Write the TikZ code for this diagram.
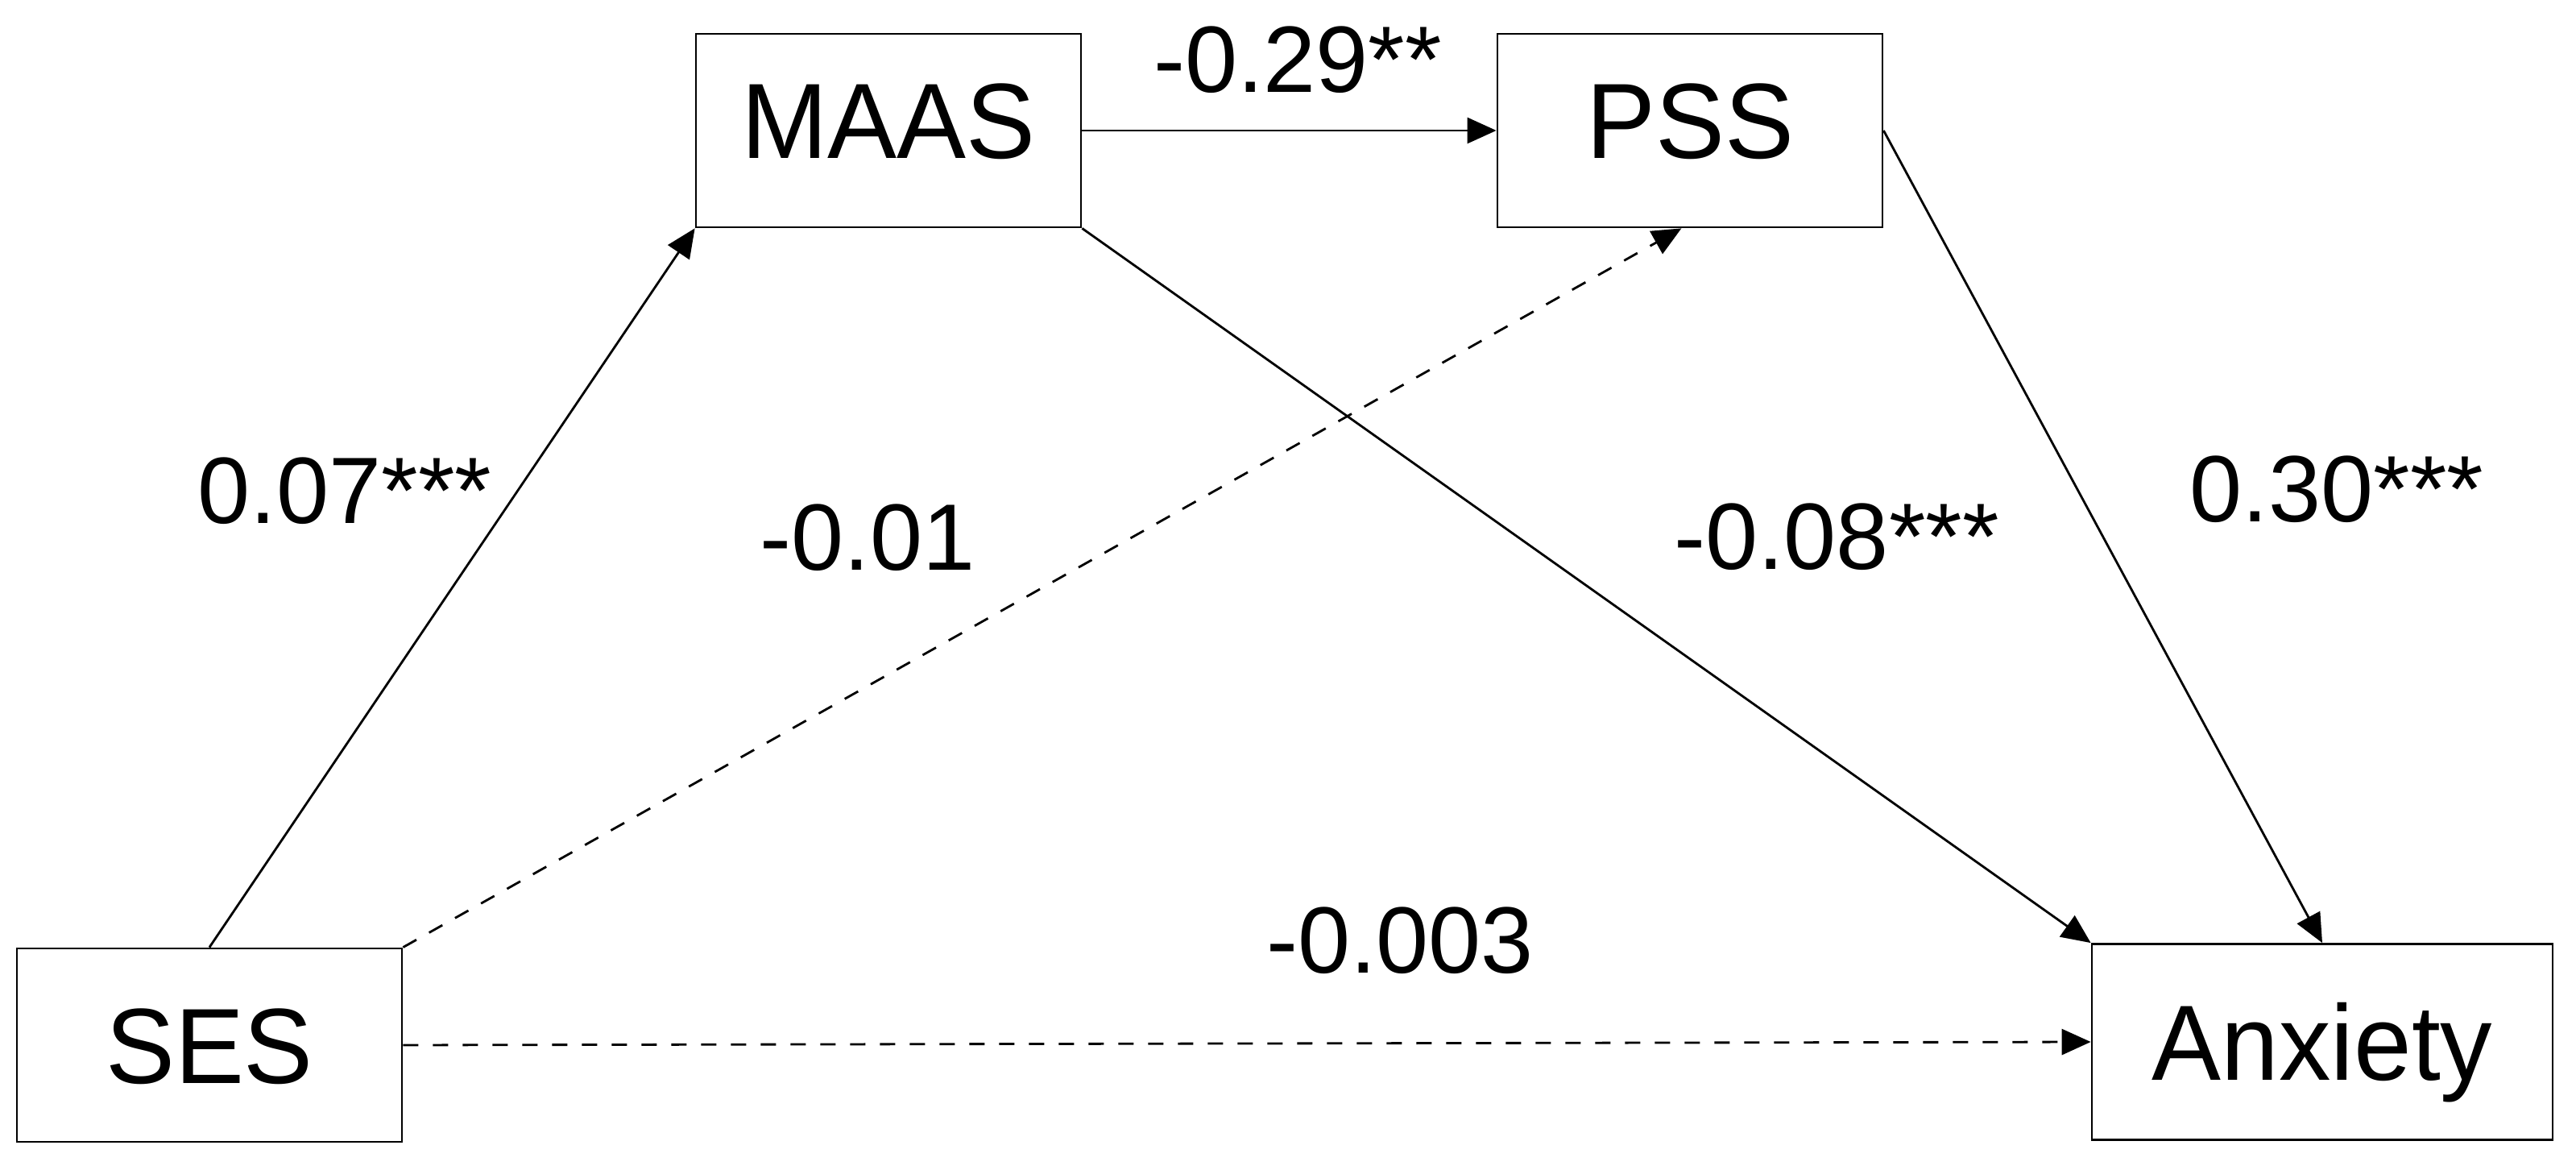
\documentclass[tikz,border=0pt]{standalone}
\usepackage{fontspec}
\setmainfont{Liberation Sans}
\newfontfamily\boxfont[FakeStretch=0.97]{Liberation Sans}
\usetikzlibrary{arrows.meta}

\begin{document}
\begin{tikzpicture}[>={Triangle[length=0.36cm,width=0.32cm]}, line width=0.8pt,
		box/.style={draw, rectangle, minimum width=4.78cm, minimum height=2.40cm, inner sep=0pt,
			text height=0.95cm, text depth=0pt, font=\boxfont\fontsize{37.8}{40}\selectfont},
		coef/.style={anchor=base, font=\fontsize{33.3}{36}\selectfont},
		dsh/.style={dash pattern=on 0.19cm off 0.18cm}]
		\useasboundingbox (0,0) rectangle (31.98,14.46);
		\node[box, text depth=0.26cm] (MAAS) at (11.03,12.84) {MAAS};
		\node[box, text depth=0.26cm] (PSS) at (20.98,12.84) {PSS};
		\node[box] (SES) at (2.60,1.49) {SES};
		\node[box, minimum width=5.72cm, minimum height=2.43cm] (Anx) at (28.83,1.53) {Anxiety};
		% paths
		\draw[->] (SES.north) -- (MAAS.south west);
		\draw[->, dsh] (SES.north east) -- (PSS.-95);
		\draw[->] (MAAS.east) -- (PSS.west);
		\draw[->] (MAAS.south east) -- (Anx.north west);
		\draw[->] (PSS.east) -- (Anx.north);
		\draw[->, dsh] (SES.east) -- (Anx.west);
		% coefficients
		\node[coef] (cMP) at (16.11,13.31) {-0.29**};
		\node[coef] (cSM) at (4.28,7.96) {0.07***};
		\node[coef] (cSP) at (10.77,7.38) {-0.01};
		\node[coef] (cMA) at (22.80,7.39) {-0.08***};
		\node[coef] (cPA) at (29.01,7.98) {0.30***};
		\node[coef] (cSA) at (17.38,2.38) {-0.003};
	\end{tikzpicture}
\end{document}
